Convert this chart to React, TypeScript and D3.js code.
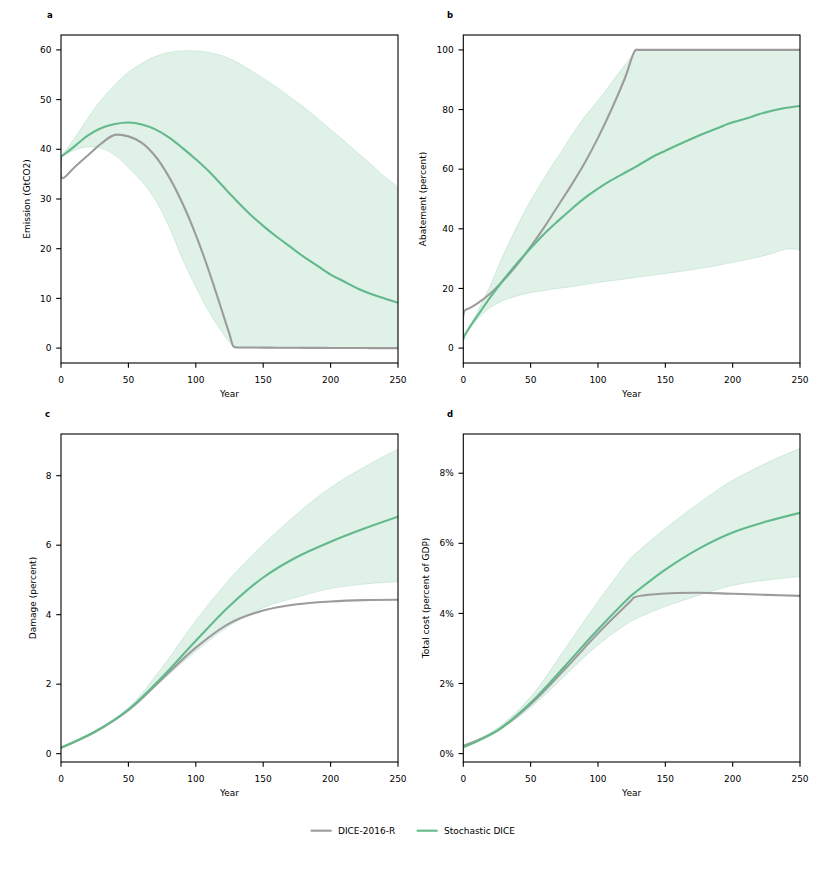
import * as d3 from "d3";

// ---- data ----
const labelsSeries = ["DICE-2016-R", "Stochastic DICE"];

// panel a: emission (GtCO2)
const yearsA = [0, 1, 10, 20, 30, 40, 50, 60, 70, 80, 90, 100, 110, 120, 125, 128, 130, 140, 150, 160, 170, 180, 190, 200, 210, 220, 230, 240, 250];
const diceA = [38.5, 34.2, 36.4, 38.8, 41.2, 42.9, 42.6, 41.3, 38.6, 34.5, 29.2, 22.8, 15.3, 7.0, 2.8, 0.3, 0.15, 0.12, 0.1, 0.08, 0.06, 0.05, 0.04, 0.03, 0.02, 0.01, 0, 0, 0];
const stochA = [38.5, 38.7, 40.6, 42.8, 44.3, 45.1, 45.4, 45.0, 44.0, 42.4, 40.3, 38.0, 35.5, 32.6, 31.1, 30.3, 29.7, 27.0, 24.6, 22.4, 20.4, 18.4, 16.6, 14.8, 13.4, 12.0, 10.9, 10.0, 9.1];
const upperA = [38.5, 38.9, 42.2, 46.3, 50.0, 53.0, 55.5, 57.3, 58.7, 59.5, 59.8, 59.8, 59.5, 58.8, 58.2, 57.9, 57.6, 56.0, 54.3, 52.5, 50.5, 48.5, 46.3, 44.0, 41.7, 39.3, 37.0, 34.5, 32.5];
const lowerA = [38.5, 38.6, 39.8, 40.5, 40.2, 38.8, 36.3, 33.5, 29.8, 24.5, 18.0, 12.3, 7.2, 3.0, 1.2, 0.4, 0.05, 0, 0, 0, 0, 0, 0, 0, 0, 0, 0, 0, 0];

// panel b: abatement (percent)
const yearsB = [0, 1, 5, 10, 20, 30, 40, 50, 60, 70, 80, 90, 100, 110, 120, 128, 130, 140, 150, 160, 170, 180, 190, 200, 210, 220, 230, 240, 250];
const diceB = [3, 12.5, 13.5, 14.8, 18.3, 22.8, 28, 34, 40.5, 47.5, 54.5, 62, 70.5, 80, 90.5, 100, 100, 100, 100, 100, 100, 100, 100, 100, 100, 100, 100, 100, 100];
const stochB = [3, 4.2, 7.2, 10.5, 17, 23, 28.5, 33.5, 38.3, 42.5, 46.5, 50.3, 53.5, 56.3, 58.8, 60.8, 61.3, 64, 66.2, 68.3, 70.3, 72.2, 74, 75.7, 77, 78.5, 79.7, 80.6, 81.2];
const upperB = [3, 4.5, 7.5, 11.8, 21, 31.5, 41, 49.5, 57, 64, 71, 77.5, 83, 89, 95, 99.5, 100, 100, 100, 100, 100, 100, 100, 100, 100, 100, 100, 100, 100];
const lowerB = [3, 3.8, 6.5, 9.5, 13.5, 16, 17.5, 18.6, 19.3, 20, 20.6, 21.3, 22, 22.6, 23.2, 23.7, 23.8, 24.4, 25, 25.6, 26.3, 27, 27.8, 28.7, 29.6, 30.6, 31.8, 33.2, 33];

// panel c: damage (percent)
const yearsC = [0, 25, 50, 75, 100, 125, 150, 175, 200, 225, 250];
const diceC = [0.17, 0.62, 1.25, 2.15, 3.05, 3.75, 4.12, 4.3, 4.38, 4.42, 4.43];
const stochC = [0.17, 0.63, 1.27, 2.2, 3.25, 4.25, 5.07, 5.66, 6.1, 6.48, 6.82];
const upperC = [0.17, 0.64, 1.32, 2.48, 3.83, 5.02, 6.02, 6.9, 7.66, 8.25, 8.77];
const lowerC = [0.17, 0.6, 1.23, 2.1, 2.95, 3.68, 4.2, 4.5, 4.75, 4.88, 4.95];

// panel d: total cost (percent of GDP)
const yearsD = [0, 25, 50, 75, 100, 125, 127, 150, 175, 200, 225, 250];
const diceD = [0.22, 0.65, 1.41, 2.39, 3.43, 4.38, 4.46, 4.57, 4.59, 4.56, 4.53, 4.5];
const stochD = [0.18, 0.65, 1.45, 2.48, 3.54, 4.52, 4.58, 5.25, 5.85, 6.31, 6.62, 6.87];
const upperD = [0.2, 0.72, 1.62, 2.96, 4.34, 5.61, 5.68, 6.42, 7.15, 7.8, 8.29, 8.71];
const lowerD = [0.2, 0.63, 1.31, 2.21, 3.1, 3.79, 3.83, 4.2, 4.52, 4.8, 4.95, 5.05];

const xTicks = [0, 50, 100, 150, 200, 250];

const GRAY = "#9c9c9c";
const GREEN = "#62b98a";
const FONT = "DejaVu Sans, sans-serif";
const curve = d3.curveCatmullRom.alpha(0.5);

type PanelProps = {
  letter: string;
  letterX: number;
  letterY: number;
  left: number;
  right: number;
  top: number;
  bottom: number;
  years: number[];
  dice: number[];
  stoch: number[];
  upper: number[];
  lower: number[];
  yDomain: [number, number];
  yTicks: number[];
  yFormat: (v: number) => string;
  ylabel: string;
  ylabelX: number;
};

function Panel(p: PanelProps) {
  const x = d3.scaleLinear().domain([0, 250]).range([p.left, p.right]);
  const y = d3.scaleLinear().domain(p.yDomain).range([p.bottom, p.top]);
  const idx = d3.range(p.years.length);

  const area = d3
    .area<number>()
    .x((i) => x(p.years[i]))
    .y0((i) => y(p.lower[i]))
    .y1((i) => y(p.upper[i]))
    .curve(curve);
  const line = (vals: number[]) =>
    d3
      .line<number>()
      .x((i) => x(p.years[i]))
      .y((i) => y(vals[i]))
      .curve(curve)(idx) || "";
  const clipId = "clip-" + p.letter;
  const midY = (p.top + p.bottom) / 2;

  return (
    <g>
      <defs>
        <clipPath id={clipId}>
          <rect x={p.left} y={p.top} width={p.right - p.left} height={p.bottom - p.top} />
        </clipPath>
      </defs>
      <text x={p.letterX} y={p.letterY} fontSize={8.5} fontWeight="bold" fontFamily={FONT}>
        {p.letter}
      </text>
      <g clipPath={`url(#${clipId})`}>
        <path d={area(idx) || ""} fill={GREEN} fillOpacity={0.2} stroke={GREEN} strokeOpacity={0.2} strokeWidth={1} />
        <path d={line(p.dice)} fill="none" stroke={GRAY} strokeWidth={2.1} />
        <path d={line(p.stoch)} fill="none" stroke={GREEN} strokeWidth={2.1} />
      </g>
      <rect
        x={p.left}
        y={p.top}
        width={p.right - p.left}
        height={p.bottom - p.top}
        fill="none"
        stroke="#000"
        strokeWidth={1.1}
      />
      {xTicks.map((t) => (
        <g key={"x" + t}>
          <line x1={x(t)} x2={x(t)} y1={p.bottom} y2={p.bottom + 4.8} stroke="#000" strokeWidth={1.1} />
          <text x={x(t)} y={p.bottom + 19.5} fontSize={9} fontFamily={FONT} textAnchor="middle">
            {t}
          </text>
        </g>
      ))}
      {p.yTicks.map((t) => (
        <g key={"y" + t}>
          <line x1={p.left - 4.8} x2={p.left} y1={y(t)} y2={y(t)} stroke="#000" strokeWidth={1.1} />
          <text
            x={p.left - 9.5}
            y={y(t)}
            dy="0.35em"
            fontSize={9}
            fontFamily={FONT}
            textAnchor="end"
          >
            {p.yFormat(t)}
          </text>
        </g>
      ))}
      <text x={(p.left + p.right) / 2} y={p.bottom + 33.5} fontSize={9} fontFamily={FONT} textAnchor="middle">
        Year
      </text>
      <text
        transform={`translate(${p.ylabelX},${midY}) rotate(-90)`}
        fontSize={9}
        fontFamily={FONT}
        textAnchor="middle"
        dy="0.35em"
      >
        {p.ylabel}
      </text>
    </g>
  );
}

export default function App() {
  const fmt = (v: number) => String(v);
  const pct = (v: number) => `${v}%`;
  return (
    <svg width={831} height={883} style={{ position: "absolute", left: 0, top: 0, background: "#fff" }}>
      <Panel
        letter="a" letterX={47} letterY={18}
        left={61} right={398} top={35} bottom={363}
        years={yearsA} dice={diceA} stoch={stochA} upper={upperA} lower={lowerA}
        yDomain={[-3, 63]} yTicks={[0, 10, 20, 30, 40, 50, 60]} yFormat={fmt}
        ylabel="Emission (GtCO2)" ylabelX={27}
      />
      <Panel
        letter="b" letterX={447} letterY={18}
        left={463.3} right={800} top={35} bottom={363}
        years={yearsB} dice={diceB} stoch={stochB} upper={upperB} lower={lowerB}
        yDomain={[-5, 105]} yTicks={[0, 20, 40, 60, 80, 100]} yFormat={fmt}
        ylabel="Abatement (percent)" ylabelX={423}
      />
      <Panel
        letter="c" letterX={45} letterY={417}
        left={61} right={398} top={434} bottom={762}
        years={yearsC} dice={diceC} stoch={stochC} upper={upperC} lower={lowerC}
        yDomain={[-0.24, 9.2]} yTicks={[0, 2, 4, 6, 8]} yFormat={fmt}
        ylabel="Damage (percent)" ylabelX={33}
      />
      <Panel
        letter="d" letterX={447} letterY={417}
        left={463.3} right={800} top={434} bottom={762}
        years={yearsD} dice={diceD} stoch={stochD} upper={upperD} lower={lowerD}
        yDomain={[-0.24, 9.12]} yTicks={[0, 2, 4, 6, 8]} yFormat={pct}
        ylabel="Total cost (percent of GDP)" ylabelX={426}
      />
      {/* legend */}
      <g fontFamily={FONT} fontSize={9}>
        <line x1={310.7} x2={331.7} y1={830.7} y2={830.7} stroke={GRAY} strokeWidth={2.1} />
        <text x={338} y={830.7} dy="0.35em">{labelsSeries[0]}</text>
        <line x1={416.7} x2={437.7} y1={830.7} y2={830.7} stroke={GREEN} strokeWidth={2.1} />
        <text x={444} y={830.7} dy="0.35em">{labelsSeries[1]}</text>
      </g>
    </svg>
  );
}
